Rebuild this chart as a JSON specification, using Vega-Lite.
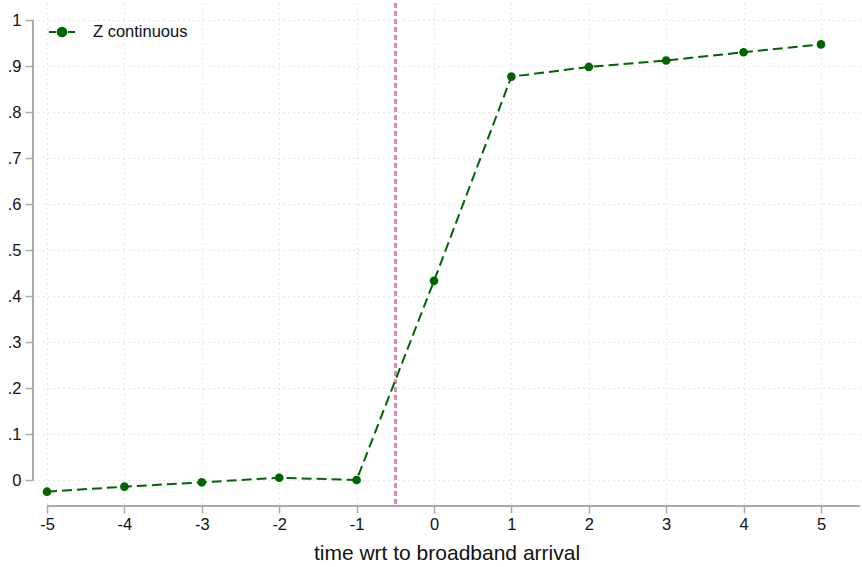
{
  "$schema": "https://vega.github.io/schema/vega-lite/v6.json",
  "autosize": "none",
  "width": 827,
  "height": 503,
  "padding": {"left": 33, "top": 3, "right": 2, "bottom": 61},
  "background": "white",
  "config": {
    "view": {"stroke": null},
    "font": "Liberation Sans",
    "axis": {
      "labelFont": "Liberation Sans",
      "titleFont": "Liberation Sans",
      "labelColor": "#111111",
      "titleColor": "#111111",
      "labelFontSize": 16.5,
      "titleFontSize": 21,
      "titleFontWeight": "normal",
      "domain": false,
      "tickColor": "#aaaaaa",
      "tickWidth": 1.5,
      "gridColor": "#cccccc",
      "gridDash": [1, 4],
      "gridWidth": 1
    }
  },
  "data": {
    "values": [
      {"t": -5, "z": -0.0254, "series": "Z continuous"},
      {"t": -4, "z": -0.0145, "series": "Z continuous"},
      {"t": -3, "z": -0.0050, "series": "Z continuous"},
      {"t": -2, "z": 0.0050, "series": "Z continuous"},
      {"t": -1, "z": 0.0000, "series": "Z continuous"},
      {"t": 0, "z": 0.433, "series": "Z continuous"},
      {"t": 1, "z": 0.877, "series": "Z continuous"},
      {"t": 2, "z": 0.898, "series": "Z continuous"},
      {"t": 3, "z": 0.912, "series": "Z continuous"},
      {"t": 4, "z": 0.930, "series": "Z continuous"},
      {"t": 5, "z": 0.947, "series": "Z continuous"}
    ]
  },
  "layer": [
    {
      "mark": {"type": "rule", "color": "#aaaaaa", "strokeWidth": 1.5},
      "encoding": {
        "x": {"datum": -5.181, "type": "quantitative"},
        "y": {"datum": 0, "type": "quantitative"},
        "y2": {"datum": 1}
      }
    },
    {
      "mark": {"type": "rule", "color": "#aaaaaa", "strokeWidth": 1.5},
      "encoding": {
        "x": {"datum": -5, "type": "quantitative"},
        "x2": {"datum": 5.504},
        "y": {"datum": -0.0565, "type": "quantitative"}
      }
    },
    {
      "mark": {"type": "rule", "color": "#d98cb3", "strokeWidth": 2, "strokeDash": [5, 3]},
      "encoding": {
        "x": {"datum": -0.5, "type": "quantitative"}
      }
    },
    {
      "mark": {"type": "line", "strokeWidth": 2, "strokeDash": [10, 5]},
      "encoding": {
        "x": {
          "field": "t", "type": "quantitative",
          "scale": {"domain": [-5.181, 5.504], "nice": false, "zero": false},
          "axis": {
            "values": [-5, -4, -3, -2, -1, 0, 1, 2, 3, 4, 5],
            "labelExpr": "datum.value < 0 ? '-' + abs(datum.value) : '' + datum.value",
            "title": "time wrt to broadband arrival",
            "tickSize": 7,
            "labelPadding": 3,
            "titlePadding": 10,
            "grid": true
          }
        },
        "y": {
          "field": "z", "type": "quantitative",
          "scale": {"domain": [-0.0565, 1.037], "nice": false, "zero": false},
          "axis": {
            "values": [0, 0.1, 0.2, 0.3, 0.4, 0.5, 0.6, 0.7, 0.8, 0.9, 1],
            "labelExpr": "datum.value == 0 ? '0' : datum.value == 1 ? '1' : replace(format(datum.value, '.1f'), '0.', '.')",
            "title": null,
            "tickSize": 8,
            "labelPadding": 4,
            "grid": true
          }
        },
        "color": {
          "field": "series", "type": "nominal",
          "scale": {"range": ["#006400"]},
          "legend": {
            "title": null,
            "orient": "none",
            "legendX": 15,
            "legendY": 15,
            "symbolType": "M-1,0 L-0.45,0 M0.45,0 L1,0 M-0.33,0 A0.33,0.33 0 1,1 0.33,0 A0.33,0.33 0 1,1 -0.33,0",
            "symbolSize": 676,
            "symbolStrokeWidth": 2,
            "symbolFillColor": "#006400",
            "symbolStrokeColor": "#006400",
            "labelFontSize": 16.5,
            "labelFont": "Liberation Sans",
            "labelColor": "#111111",
            "labelOffset": 17
          }
        }
      }
    },
    {
      "mark": {"type": "point", "filled": true, "size": 75, "opacity": 1},
      "encoding": {
        "x": {"field": "t", "type": "quantitative"},
        "y": {"field": "z", "type": "quantitative"},
        "color": {"field": "series", "type": "nominal"}
      }
    }
  ]
}
